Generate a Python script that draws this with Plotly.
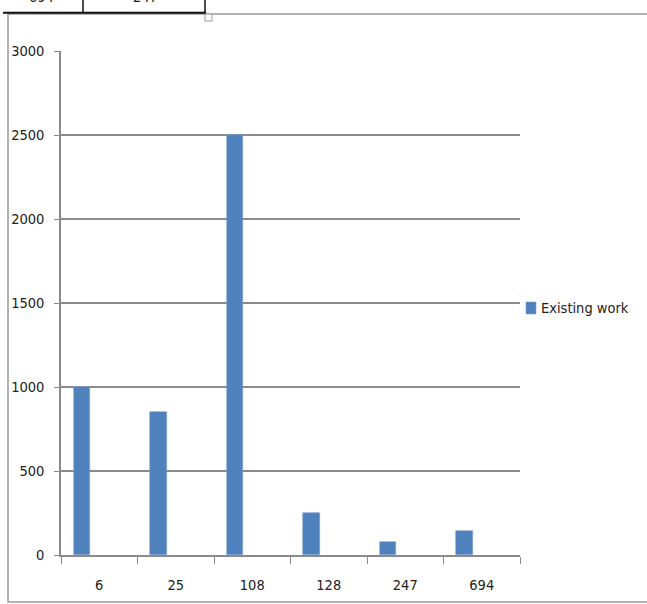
import plotly.graph_objects as go

# Category labels and values for the single plotted series
categories = ["6", "25", "108", "128", "247", "694"]
existing_work = [1000, 850, 2500, 250, 75, 140]
y_ticks = [0, 500, 1000, 1500, 2000, 2500, 3000]
series_name = "Existing work"

W, H = 647, 604
FONT = "DejaVu Sans Condensed, DejaVu Sans, sans-serif"
FS = 14.5
GRID = "#8a8a8a"
BAR = "#4F81BD"
TXT = "#222222"


def px(x):
    return x / W


def py(y):
    return 1 - y / H


fig = go.Figure()
fig.add_trace(go.Bar(
    x=categories,
    y=existing_work,
    name=series_name,
    marker=dict(color=BAR, line=dict(color="#7fa3d0", width=0.6)),
    width=0.215,
    offset=-0.335,
    showlegend=False,
))

fig.update_layout(
    width=W, height=H,
    autosize=False,
    margin=dict(l=0, r=0, t=0, b=0, autoexpand=False),
    paper_bgcolor="white",
    plot_bgcolor="white",
    font=dict(family=FONT, size=FS, color=TXT),
    showlegend=False,
    xaxis=dict(
        domain=[px(61), px(520)],
        type="category",
        range=[-0.5, 5.5],
        automargin=False,
        showgrid=False,
        showline=True, linecolor=GRID, linewidth=1.5,
        ticks="outside", ticklen=7, tickcolor=GRID, tickwidth=1.2,
        tickson="boundaries",
        tickfont=dict(family=FONT, size=FS, color=TXT),
        ticklabelstandoff=16,
        fixedrange=True,
    ),
    yaxis=dict(
        domain=[py(555), py(51)],
        range=[0, 3000],
        tickvals=y_ticks,
        automargin=False,
        showgrid=True, gridcolor=GRID, gridwidth=1.5,
        showline=True, linecolor=GRID, linewidth=1.5,
        ticks="outside", ticklen=5, tickcolor=GRID, tickwidth=1.2,
        tickfont=dict(family=FONT, size=FS, color=TXT),
        ticklabelstandoff=7,
        zeroline=False,
        fixedrange=True,
    ),
    bargap=0,
)

shapes = [
    # outer chart frame
    dict(type="rect", xref="paper", yref="paper",
         x0=px(8), x1=px(660), y0=py(602), y1=py(14),
         line=dict(color="#9a9a9a", width=1.5), fillcolor="rgba(0,0,0,0)", layer="below"),
    # table edge running across the top
    dict(type="line", xref="paper", yref="paper",
         x0=px(3), x1=px(206), y0=py(12.7), y1=py(12.7),
         line=dict(color="#111111", width=2)),
    dict(type="line", xref="paper", yref="paper",
         x0=px(83), x1=px(83), y0=py(0), y1=py(13),
         line=dict(color="#111111", width=1.5)),
    dict(type="line", xref="paper", yref="paper",
         x0=px(205), x1=px(205), y0=py(0), y1=py(13.5),
         line=dict(color="#111111", width=1.5)),
    # resize handle
    dict(type="rect", xref="paper", yref="paper",
         x0=px(205), x1=px(212), y0=py(21), y1=py(14),
         line=dict(color="#9a9a9a", width=1), fillcolor="white"),
    # legend swatch
    dict(type="rect", xref="paper", yref="paper",
         x0=px(526), x1=px(536), y0=py(314), y1=py(302),
         line=dict(color="#7fa3d0", width=0.6), fillcolor=BAR),
]
fig.update_layout(shapes=shapes)

# legend label
fig.add_annotation(
    x=px(539), y=py(308), xref="paper", yref="paper",
    xanchor="left", yanchor="middle", showarrow=False,
    text=series_name, font=dict(family=FONT, size=FS, color=TXT),
)

# partly visible cell text from the table row above
for xc, txt in [(41, "694"), (145, "247")]:
    fig.add_annotation(
        x=px(xc), y=py(7.5), xref="paper", yref="paper",
        xanchor="center", yanchor="bottom", showarrow=False,
        text=txt, font=dict(family=FONT, size=FS, color=TXT),
    )

fig.write_html("out.html")
